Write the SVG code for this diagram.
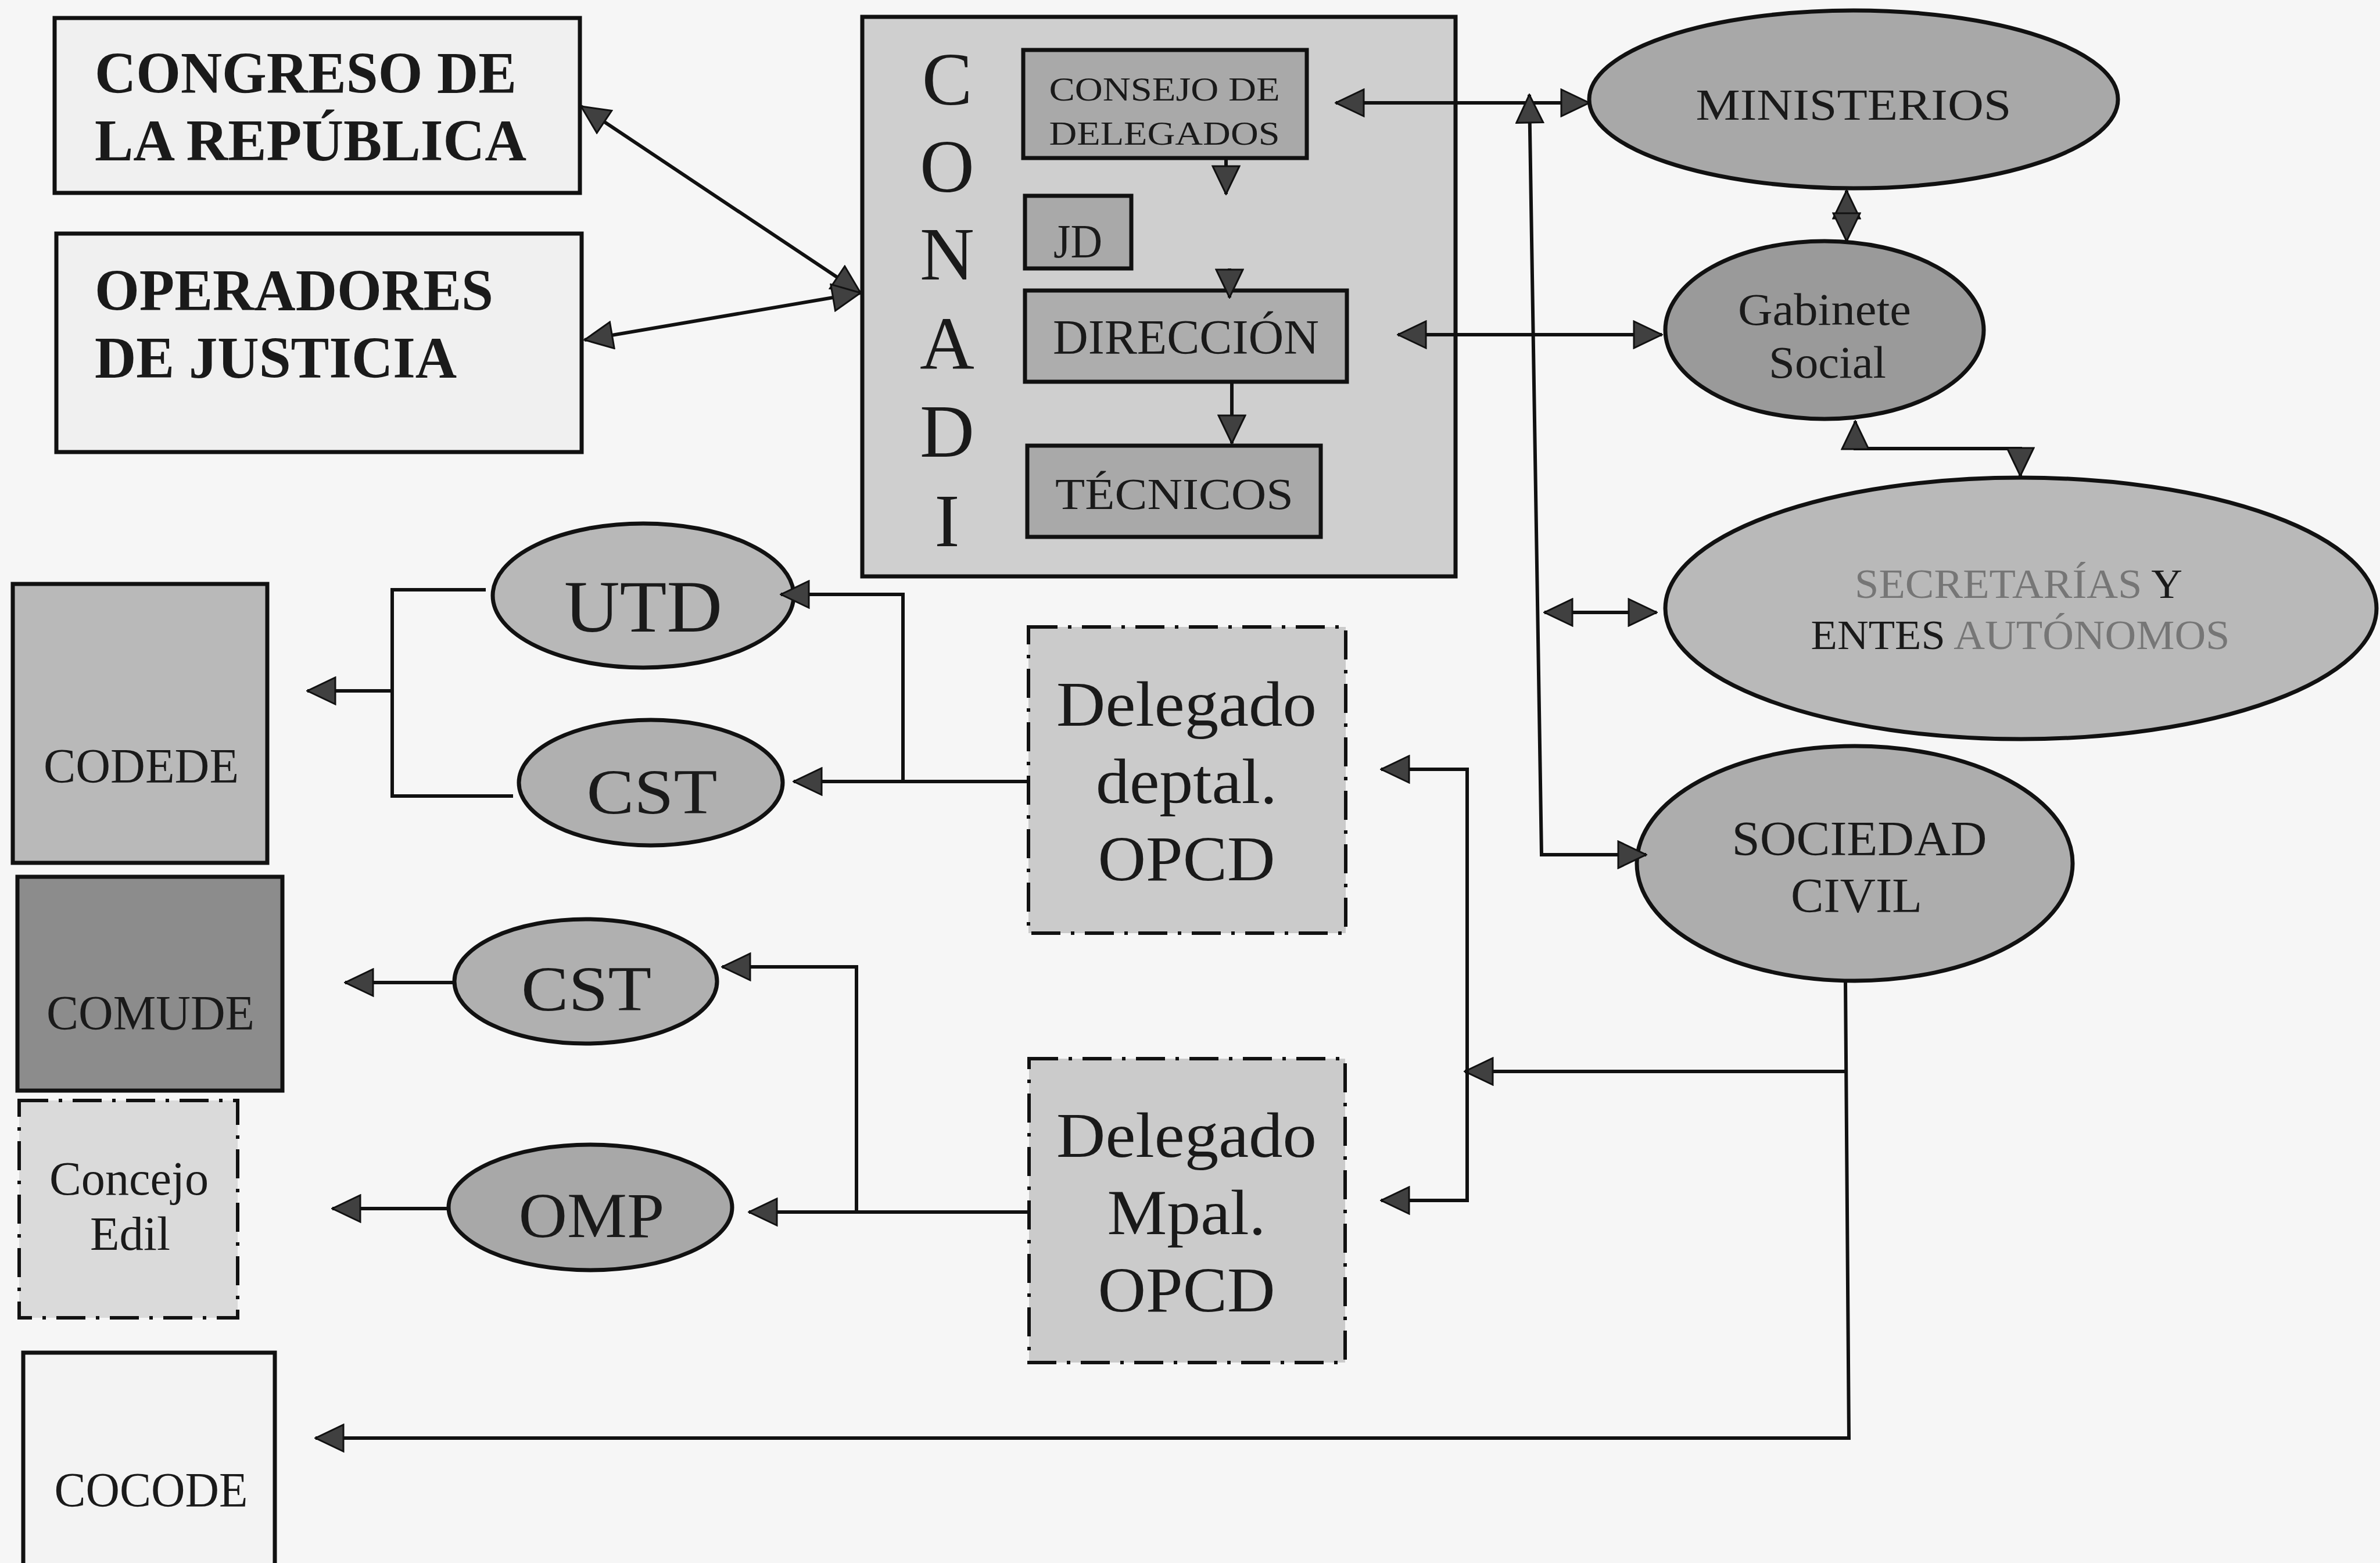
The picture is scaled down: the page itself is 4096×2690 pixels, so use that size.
<svg xmlns="http://www.w3.org/2000/svg" width="4096" height="2690" viewBox="0 0 4096 2690">
<defs>
<marker id="ah" markerUnits="userSpaceOnUse" markerWidth="52" markerHeight="50" viewBox="0 0 52 50" refX="50" refY="25" orient="auto-start-reverse"><path d="M2,2 L50,25 L2,48 Z" fill="#404040" stroke="#111" stroke-width="3"/></marker>
<style>
.box{stroke:#111;stroke-width:7}
.dd{stroke-width:6;stroke-dasharray:50 18 6 18}
.conn{fill:none;stroke:#111;stroke-width:6}
.t{font-family:"Liberation Serif","Times New Roman",serif;fill:#1a1a1a}
.b{font-weight:bold}
.m{text-anchor:middle}
.faded{fill:#767676}
</style>
</defs>
<rect x="0" y="0" width="4096" height="2690" fill="#f6f6f6"/>

<g id="congreso">
<rect class="box" x="94" y="31" width="904" height="301" fill="#f0f0f0"/>
<text class="t b" x="163" y="160" font-size="102" textLength="726" lengthAdjust="spacingAndGlyphs">CONGRESO DE</text>
<text class="t b" x="163" y="276" font-size="102" textLength="743" lengthAdjust="spacingAndGlyphs">LA REPÚBLICA</text>
</g>
<g id="operadores">
<rect class="box" x="97" y="402" width="904" height="376" fill="#f0f0f0"/>
<text class="t b" x="163" y="534" font-size="102" textLength="686" lengthAdjust="spacingAndGlyphs">OPERADORES</text>
<text class="t b" x="163" y="650" font-size="102" textLength="623" lengthAdjust="spacingAndGlyphs">DE JUSTICIA</text>
</g>

<g id="conadi">
<rect class="box" x="1484" y="29" width="1021" height="963" fill="#cfcfcf"/>
<text class="t m" x="1630" y="180" font-size="130">C</text>
<text class="t m" x="1630" y="330" font-size="130">O</text>
<text class="t m" x="1630" y="481" font-size="130">N</text>
<text class="t m" x="1630" y="635" font-size="130">A</text>
<text class="t m" x="1630" y="786" font-size="130">D</text>
<text class="t m" x="1630" y="940" font-size="130">I</text>
</g>
<g id="consejo">
<rect class="box" x="1761" y="86" width="488" height="186" fill="#a9a9a9"/>
<text class="t m" x="2004" y="173" font-size="58" textLength="397" lengthAdjust="spacingAndGlyphs">CONSEJO DE</text>
<text class="t m" x="2004" y="249" font-size="58" textLength="397" lengthAdjust="spacingAndGlyphs">DELEGADOS</text>
</g>
<g id="jd">
<rect class="box" x="1764" y="337" width="183" height="125" fill="#a9a9a9"/>
<text class="t m" x="1855" y="443" font-size="82" textLength="84" lengthAdjust="spacingAndGlyphs">JD</text>
</g>
<g id="direccion">
<rect class="box" x="1764" y="500" width="554" height="157" fill="#adadad"/>
<text class="t m" x="2041" y="609" font-size="84" textLength="458" lengthAdjust="spacingAndGlyphs">DIRECCIÓN</text>
</g>
<g id="tecnicos">
<rect class="box" x="1768" y="767" width="505" height="157" fill="#a9a9a9"/>
<text class="t m" x="2021" y="876" font-size="76" textLength="410" lengthAdjust="spacingAndGlyphs">TÉCNICOS</text>
</g>

<g id="ministerios">
<ellipse class="box" cx="3190" cy="171" rx="455" ry="153" fill="#a8a8a8"/>
<text class="t m" x="3190" y="206" font-size="76" textLength="543" lengthAdjust="spacingAndGlyphs">MINISTERIOS</text>
</g>
<g id="gabinete">
<ellipse class="box" cx="3140" cy="568" rx="274" ry="153" fill="#9a9a9a"/>
<text class="t m" x="3140" y="559" font-size="78" textLength="298" lengthAdjust="spacingAndGlyphs">Gabinete</text>
<text class="t m" x="3145" y="650" font-size="78" textLength="202" lengthAdjust="spacingAndGlyphs">Social</text>
</g>
<g id="secretarias">
<ellipse class="box" cx="3478" cy="1047" rx="612" ry="225" fill="#b9b9b9"/>
<text class="t m" x="3474" y="1029" font-size="72" textLength="564" lengthAdjust="spacingAndGlyphs"><tspan class="faded">SECRETARÍAS</tspan> Y</text>
<text class="t m" x="3477" y="1117" font-size="72" textLength="721" lengthAdjust="spacingAndGlyphs">ENTES <tspan class="faded">AUTÓNOMOS</tspan></text>
</g>
<g id="sociedad">
<ellipse class="box" cx="3192" cy="1486" rx="375" ry="202" fill="#adadad"/>
<text class="t m" x="3200" y="1472" font-size="84" textLength="439" lengthAdjust="spacingAndGlyphs">SOCIEDAD</text>
<text class="t m" x="3195" y="1570" font-size="84" textLength="226" lengthAdjust="spacingAndGlyphs">CIVIL</text>
</g>

<g id="delegado-deptal">
<rect class="box dd" x="1770" y="1079" width="546" height="527" fill="#cbcbcb"/>
<text class="t m" x="2042" y="1249" font-size="110" textLength="448" lengthAdjust="spacingAndGlyphs">Delegado</text>
<text class="t m" x="2042" y="1382" font-size="110" textLength="312" lengthAdjust="spacingAndGlyphs">deptal.</text>
<text class="t m" x="2042" y="1515" font-size="110" textLength="305" lengthAdjust="spacingAndGlyphs">OPCD</text>
</g>
<g id="delegado-mpal">
<rect class="box dd" x="1771" y="1822" width="544" height="523" fill="#cbcbcb"/>
<text class="t m" x="2042" y="1991" font-size="110" textLength="448" lengthAdjust="spacingAndGlyphs">Delegado</text>
<text class="t m" x="2042" y="2124" font-size="110" textLength="273" lengthAdjust="spacingAndGlyphs">Mpal.</text>
<text class="t m" x="2042" y="2257" font-size="110" textLength="305" lengthAdjust="spacingAndGlyphs">OPCD</text>
</g>

<g id="utd">
<ellipse class="box" cx="1107" cy="1025" rx="259" ry="124" fill="#b8b8b8"/>
<text class="t m" x="1107" y="1087" font-size="128" textLength="272" lengthAdjust="spacingAndGlyphs">UTD</text>
</g>
<g id="cst-1">
<ellipse class="box" cx="1120" cy="1347" rx="227" ry="108" fill="#b0b0b0"/>
<text class="t m" x="1122" y="1400" font-size="110" textLength="225" lengthAdjust="spacingAndGlyphs">CST</text>
</g>
<g id="cst-2">
<ellipse class="box" cx="1008" cy="1689" rx="226" ry="107" fill="#b0b0b0"/>
<text class="t m" x="1009" y="1739" font-size="110" textLength="224" lengthAdjust="spacingAndGlyphs">CST</text>
</g>
<g id="omp">
<ellipse class="box" cx="1016" cy="2078" rx="244" ry="108" fill="#a8a8a8"/>
<text class="t m" x="1018" y="2129" font-size="110" textLength="251" lengthAdjust="spacingAndGlyphs">OMP</text>
</g>

<g id="codede">
<rect class="box" x="22" y="1005" width="438" height="480" fill="#b9b9b9"/>
<text class="t m" x="243" y="1347" font-size="84" textLength="336" lengthAdjust="spacingAndGlyphs">CODEDE</text>
</g>
<g id="comude">
<rect class="box" x="30" y="1509" width="456" height="368" fill="#8c8c8c"/>
<text class="t m" x="259" y="1772" font-size="84" textLength="358" lengthAdjust="spacingAndGlyphs" fill="#333">COMUDE</text>
</g>
<g id="concejo-edil">
<rect class="box dd" x="33" y="1894" width="376" height="374" fill="#dadada"/>
<text class="t m" x="222" y="2056" font-size="82" textLength="274" lengthAdjust="spacingAndGlyphs">Concejo</text>
<text class="t m" x="224" y="2151" font-size="82" textLength="138" lengthAdjust="spacingAndGlyphs">Edil</text>
</g>
<g id="cocode">
<rect class="box" x="40" y="2328" width="433" height="420" fill="#f3f3f3"/>
<text class="t m" x="260" y="2593" font-size="84" textLength="333" lengthAdjust="spacingAndGlyphs">COCODE</text>
</g>

<g id="connectors">
<line class="conn" x1="1000" y1="183" x2="1481" y2="504" marker-start="url(#ah)" marker-end="url(#ah)"/>
<line class="conn" x1="1006" y1="585" x2="1481" y2="504" marker-start="url(#ah)" marker-end="url(#ah)"/>
<line class="conn" x1="2110" y1="272" x2="2110" y2="334" marker-end="url(#ah)"/>
<line class="conn" x1="2116" y1="462" x2="2116" y2="512" marker-end="url(#ah)"/>
<line class="conn" x1="2120" y1="657" x2="2120" y2="763" marker-end="url(#ah)"/>
<line class="conn" x1="2299" y1="177" x2="2735" y2="177" marker-start="url(#ah)" marker-end="url(#ah)"/>
<line class="conn" x1="2406" y1="576" x2="2860" y2="576" marker-start="url(#ah)" marker-end="url(#ah)"/>
<polyline class="conn" points="2632,163 2653,1471 2833,1471" marker-start="url(#ah)" marker-end="url(#ah)"/>
<line class="conn" x1="2658" y1="1054" x2="2851" y2="1054" marker-start="url(#ah)" marker-end="url(#ah)"/>
<line class="conn" x1="3178" y1="328" x2="3178" y2="415" marker-start="url(#ah)" marker-end="url(#ah)"/>
<polyline class="conn" points="3193,725 3193,772 3477,772 3477,819" marker-start="url(#ah)" marker-end="url(#ah)"/>
<polyline class="conn" points="3176,1688 3182,2475 543,2475" marker-end="url(#ah)"/>
<line class="conn" x1="3178" y1="1844" x2="2521" y2="1844" marker-end="url(#ah)"/>
<polyline class="conn" points="2377,1324 2525,1324 2525,2066 2377,2066" marker-start="url(#ah)" marker-end="url(#ah)"/>
<line class="conn" x1="1770" y1="1345" x2="1366" y2="1345" marker-end="url(#ah)"/>
<polyline class="conn" points="1554,1345 1554,1023 1344,1023" marker-end="url(#ah)"/>
<polyline class="conn" points="836,1015 675,1015 675,1370 883,1370"/>
<line class="conn" x1="675" y1="1189" x2="529" y2="1189" marker-end="url(#ah)"/>
<line class="conn" x1="1771" y1="2086" x2="1289" y2="2086" marker-end="url(#ah)"/>
<polyline class="conn" points="1474,2086 1474,1664 1243,1664" marker-end="url(#ah)"/>
<line class="conn" x1="782" y1="1691" x2="594" y2="1691" marker-end="url(#ah)"/>
<line class="conn" x1="772" y1="2080" x2="572" y2="2080" marker-end="url(#ah)"/>
</g>
</svg>
